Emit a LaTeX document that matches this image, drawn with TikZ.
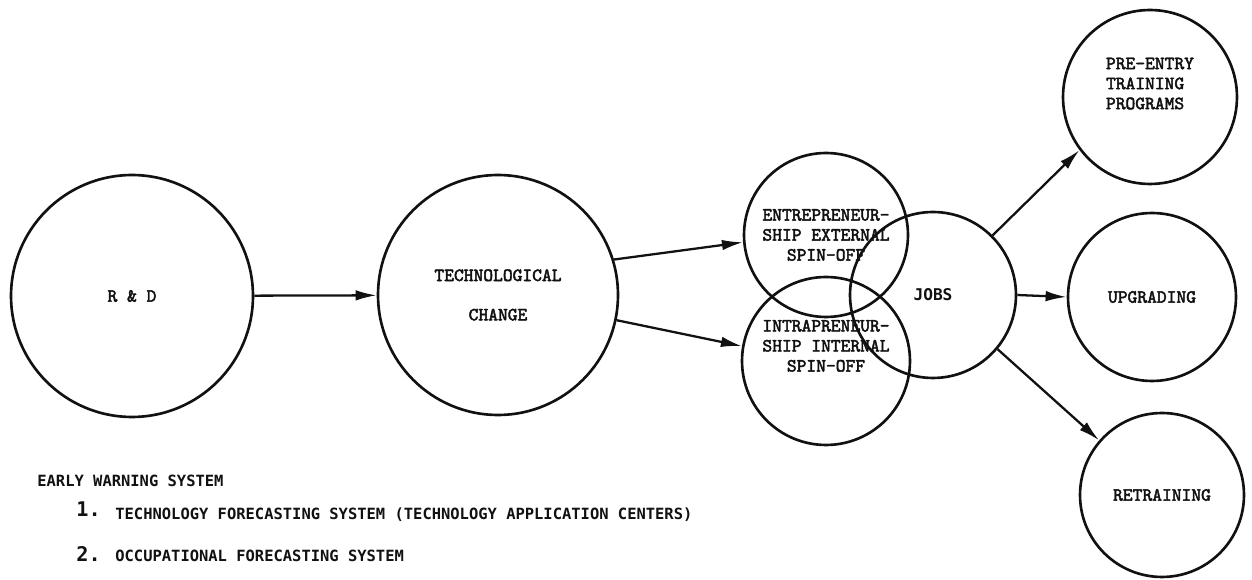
\documentclass[tikz,border=0pt]{standalone}
\usepackage{fontspec}
\usepackage{tikz}
\usetikzlibrary{arrows.meta,positioning}
\newfontfamily\typeface[AutoFakeBold=2.5]{Latin Modern Mono}
\newfontfamily\printface{DejaVu Sans Mono}
\definecolor{ink}{HTML}{111111}

\begin{document}
\begin{tikzpicture}[x=0.02cm,y=-0.02cm,>={Latex[length=12pt,width=6pt]},
  bubble/.style={circle,draw=ink,line width=1.5pt,inner sep=0pt,align=center,text=ink,font=\typeface\bfseries\fontsize{10.6}{11.4}\selectfont},
  flow/.style={->,draw=ink,line width=1.3pt},
  listtext/.style={anchor=base west,inner sep=0pt,text=ink,font=\printface\bfseries\fontsize{8.8}{10}\selectfont}]
\useasboundingbox (0,0) rectangle (1252,580);
\node[bubble,minimum size=4.84cm] (rd) at (132,296) {R \& D};
\node[bubble,minimum size=4.8cm] (tech) at (498,295) {TECHNOLOGICAL\\[11pt]CHANGE};
\node[bubble,minimum size=3.28cm] (entre) at (826,235) {ENTREPRENEUR-\\SHIP EXTERNAL\\SPIN-OFF};
\node[bubble,minimum size=3.36cm] (intra) at (826,361) {INTRAPRENEUR-\\SHIP INTERNAL\\SPIN-OFF\\[6pt]};
\node[bubble,minimum size=3.32cm,font=\printface\bfseries\fontsize{9.2}{11}\selectfont] (jobs) at (933,295) {JOBS};
\node[bubble,minimum size=3.48cm,align=left] (pre) at (1150,97) {PRE-ENTRY\\TRAINING\\PROGRAMS\\[4pt]};
\node[bubble,minimum size=3.36cm] (upg) at (1152,297) {UPGRADING};
\node[bubble,minimum size=3.28cm] (retr) at (1162,495) {RETRAINING};
\draw[flow] (rd) -- (tech);
\draw[flow] (tech.17) -- (entre.185);
\draw[flow] (tech.-12) -- (intra.170);
\foreach \a/\b in {45/pre.217,0/upg.west,-40/retr.139}
  \draw[flow] (jobs.\a) -- (\b);
\node[listtext] (ews) at (37,487) {EARLY WARNING SYSTEM};
\node[listtext,font=\printface\bfseries\fontsize{11.5}{12}\selectfont] (n1) at (76,517) {1.};
\node[listtext] (it1) at (115,520) {TECHNOLOGY FORECASTING SYSTEM (TECHNOLOGY APPLICATION CENTERS)};
\node[listtext,font=\printface\bfseries\fontsize{11.5}{12}\selectfont] (n2) at (76,562) {2.};
\node[listtext] (it2) at (115,562) {OCCUPATIONAL FORECASTING SYSTEM};
\end{tikzpicture}
\end{document}
